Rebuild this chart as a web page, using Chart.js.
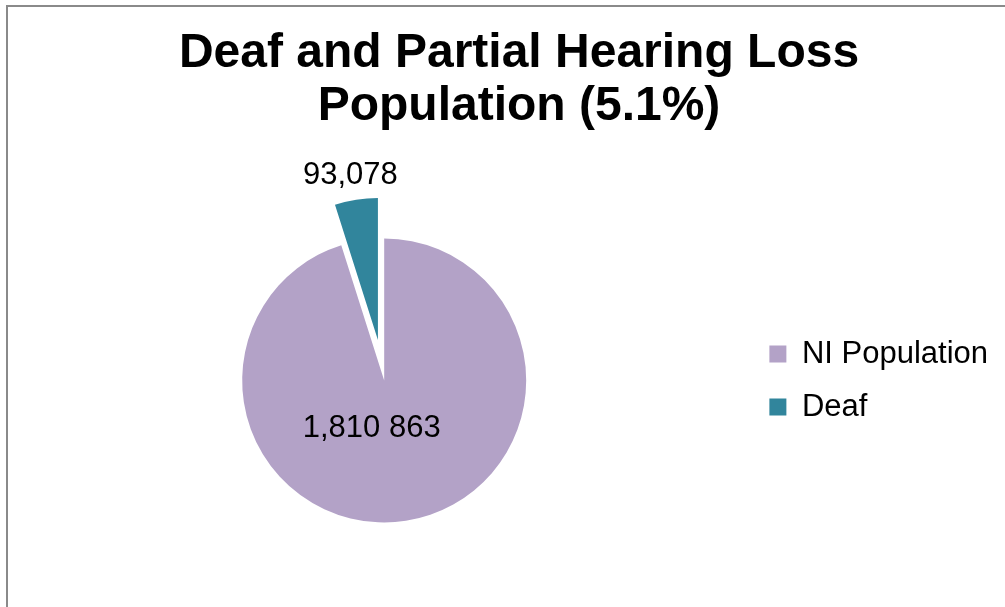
<!DOCTYPE html>
<html>
<head>
<meta charset="utf-8">
<title>Deaf and Partial Hearing Loss Population</title>
<script src="https://cdn.jsdelivr.net/npm/chart.js@4"></script>
<style>
    html, body { margin: 0; padding: 0; background: #fff; overflow: hidden; }
    #frame {
        position: absolute; left: 6px; top: 5px; width: 1100px; height: 700px;
        border-left: 2px solid #8a8a8a; border-top: 2px solid #8a8a8a;
    }
    #title {
        position: absolute; left: 0; top: 24px; width: 1038px;
        text-align: center; font: bold 48px/53px "Liberation Sans", Arial, sans-serif;
        color: #000;
    }
    #pieChart { position: absolute; left: 0; top: 0; }
</style>
</head>
<body>
<div id="frame"></div>
<canvas id="pieChart" width="1005" height="607"></canvas>
<div id="title">Deaf and Partial Hearing Loss<br>Population (5.1%)</div>

<script>
// Data
const categories = ["NI Population", "Deaf"];
const population = [1810863, 93078];
const valueLabels = ["1,810 863", "93,078"];
const sliceColors = ["#b3a2c7", "#31859c"];

Chart.defaults.font.family = "'Liberation Sans', Arial, sans-serif";
Chart.defaults.color = "#000";

// pulls a slice out of the pie along its middle angle (Excel-style explode)
const explode = {
    id: "explode",
    afterDatasetUpdate(chart, args, opts) {
        args.meta.data.forEach((arc, i) => {
            const d = opts.dist[i] || 0;
            if (!d) return;
            const mid = (arc.startAngle + arc.endAngle) / 2;
            arc.x += Math.cos(mid) * d;
            arc.y += Math.sin(mid) * d;
        });
    }
};

// draws the value text for each slice
const sliceLabels = {
    id: "sliceLabels",
    afterDatasetsDraw(chart, args, opts) {
        const ctx = chart.ctx;
        const meta = chart.getDatasetMeta(0);
        ctx.save();
        ctx.font = opts.font;
        ctx.fillStyle = "#000";
        ctx.textAlign = "center";
        ctx.textBaseline = "middle";
        meta.data.forEach((arc, i) => {
            const mid = (arc.startAngle + arc.endAngle) / 2;
            const d = arc.outerRadius * opts.dist[i];
            ctx.fillText(opts.text[i], arc.x + Math.cos(mid) * d + opts.dx[i], arc.y + Math.sin(mid) * d);
        });
        ctx.restore();
    }
};

new Chart(document.getElementById("pieChart"), {
    type: "pie",
    data: {
        labels: categories,
        datasets: [{
            data: population,
            backgroundColor: sliceColors,
            borderWidth: 0,
            radius: 142
        }]
    },
    options: {
        responsive: false,
        animation: false,
        events: [],
        layout: {
            padding: { left: 21, right: 7, top: 160, bottom: 6 }
        },
        plugins: {
            tooltip: { enabled: false },
            legend: {
                position: "right",
                labels: {
                    boxWidth: 17,
                    boxHeight: 17,
                    padding: 22,
                    font: { size: 31 },
                    color: "#000"
                }
            },
            explode: {
                dist: [0, 41]
            },
            sliceLabels: {
                text: valueLabels,
                font: "31px 'Liberation Sans', Arial, sans-serif",
                dist: [0.345, 1.176],
                dx: [-20, -2]
            }
        }
    },
    plugins: [explode, sliceLabels]
});
</script>
</body>
</html>
